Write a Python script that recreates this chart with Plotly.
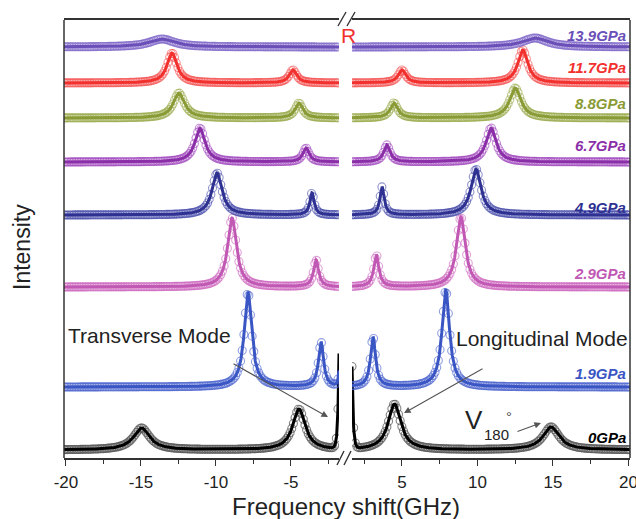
import numpy as np
import plotly.graph_objects as go

# ---- spectra: one row per pressure --------------------------------------
pressures = ["0GPa", "1.9GPa", "2.9GPa", "4.9GPa", "6.7GPa", "8.8GPa", "11.7GPa", "13.9GPa"]
baselines = [8, 71, 171, 243, 296, 340, 375, 411]   # stacking offset (a.u.)

# inner Brillouin doublet (GHz, height a.u., half width GHz)
inner_pos_neg = [-4.47, -3.0, -3.33, -3.6, -4.0, -4.47, -4.87, -4.9]
inner_pos_pos = [4.5, 3.08, 3.3, 3.68, 4.0, 4.47, 5.0, 4.9]
inner_amp_neg = [41, 45, 27, 22, 14, 15, 13, 0]
inner_amp_pos = [46, 50, 32, 28, 17, 15, 13, 0]
inner_hw = [0.5, 0.2, 0.2, 0.17, 0.25, 0.3, 0.3, 0.3]

# outer Brillouin doublet
outer_pos_neg = [-14.96, -7.87, -8.93, -9.93, -11.07, -12.47, -12.93, -13.6]
outer_pos_pos = [14.87, 7.9, 8.9, 9.9, 10.9, 12.5, 13.0, 13.8]
outer_amp_neg = [22, 95, 69, 42, 34, 25, 30, 8]
outer_amp_pos = [23, 97, 70, 46, 34, 30, 33, 9]
outer_hw = [0.65, 0.3, 0.35, 0.4, 0.4, 0.45, 0.4, 1.0]

# Rayleigh wing height at the inner cut of each side
rayleigh_neg = [95, 15, 0, 0, 0, 0, 0, 0]
rayleigh_pos = [82, 0, 0, 0, 0, 0, 0, 0]

neg_ticks = [-20, -15, -10, -5]
pos_ticks = [5, 10, 15, 20]

# ---- style ---------------------------------------------------------------
line_colors = ["#000000", "#3a55c4", "#c058b4", "#2e3192", "#8b2fa8",
               "#8a9a35", "#f2302e", "#6a4fb8"]
marker_colors = ["rgba(90,90,90,0.75)", "rgba(70,95,205,0.6)", "rgba(205,100,190,0.6)",
                 "rgba(70,75,170,0.6)", "rgba(160,70,190,0.6)", "rgba(150,168,70,0.6)",
                 "rgba(245,80,80,0.6)", "rgba(125,100,200,0.6)"]
label_offsets = [13, 14, 14, 8, 17, 15, 16, 12]

NEG_RANGE = [-20.13, -1.8]
POS_RANGE = [1.69, 20.1]
L, R, T, B = 64, 6, 20, 61
W, H = 636, 519
PW, PH = W - L - R, H - T - B


def px_x(px):
    return (px - L) / PW


def px_y(py):
    return (T + PH - py) / PH


def lorentz(f, c, a, hw):
    return a * hw ** 2 / ((f - c) ** 2 + hw ** 2)


def spectrum(f, i, side):
    if side < 0:
        y = lorentz(f, inner_pos_neg[i], inner_amp_neg[i], inner_hw[i])
        y += lorentz(f, outer_pos_neg[i], outer_amp_neg[i], outer_hw[i])
        y += rayleigh_neg[i] * np.exp(-(NEG_RANGE[1] - f) / 0.08)
    else:
        y = lorentz(f, inner_pos_pos[i], inner_amp_pos[i], inner_hw[i])
        y += lorentz(f, outer_pos_pos[i], outer_amp_pos[i], outer_hw[i])
        y += rayleigh_pos[i] * np.exp(-(f - POS_RANGE[0]) / 0.08)
    return baselines[i] + y


fig = go.Figure()
f_neg_line = np.linspace(NEG_RANGE[0], NEG_RANGE[1], 1200)
f_pos_line = np.linspace(POS_RANGE[0], POS_RANGE[1], 1200)
f_neg_pts = np.arange(NEG_RANGE[0], NEG_RANGE[1], 0.11)
f_pos_pts = np.arange(POS_RANGE[0], POS_RANGE[1], 0.11)

for i, name in enumerate(pressures):
    for side, xa, fl, fp in ((-1, "x", f_neg_line, f_neg_pts), (1, "x2", f_pos_line, f_pos_pts)):
        fig.add_trace(go.Scatter(
            x=fp, y=spectrum(fp, i, side), xaxis=xa, yaxis="y", mode="markers",
            marker=dict(symbol="circle-open", size=8, color=marker_colors[i],
                        line=dict(width=1.1, color=marker_colors[i])),
            showlegend=False, hoverinfo="skip"))
        fig.add_trace(go.Scatter(
            x=fl, y=spectrum(fl, i, side), xaxis=xa, yaxis="y", mode="lines",
            line=dict(color=line_colors[i], width=3), showlegend=False, name=name))

axis_common = dict(showline=True, linecolor="#333", linewidth=1.5, mirror=True,
                   ticks="outside", ticklen=6, tickwidth=1.3, tickcolor="#333",
                   showgrid=False, zeroline=False, ticklabeloverflow="allow",
                   ticklabelstandoff=2, automargin=False,
                   tickfont=dict(family="Liberation Sans, Arial", size=17, color="#222"),
                   minor=dict(ticks="outside", ticklen=4, tickwidth=1.2, tickcolor="#333",
                              dtick=2.5, tick0=0, showgrid=False))

fig.update_layout(
    width=W, height=H, margin=dict(l=L, r=R, t=T, b=B, autoexpand=False),
    paper_bgcolor="white", plot_bgcolor="white",
    xaxis=dict(domain=[0, px_x(339)], range=NEG_RANGE, tickvals=neg_ticks,
               ticktext=[str(v) for v in neg_ticks], anchor="y", **axis_common),
    xaxis2=dict(domain=[px_x(352), 1], range=POS_RANGE, tickvals=pos_ticks,
                ticktext=[str(v) for v in pos_ticks], anchor="y", **axis_common),
    yaxis=dict(range=[0, PH], showticklabels=False, ticks="", showgrid=False,
               zeroline=False, showline=False, domain=[0, 1], automargin=False),
)

# frame sides and axis-break marks
frame = dict(type="line", xref="paper", yref="paper", line=dict(color="#333", width=1.5))
fig.add_shape(x0=0, x1=0, y0=0, y1=1, **frame)
fig.add_shape(x0=1, x1=1, y0=0, y1=1, **frame)
for (x0, y0, x1, y1) in [(337, 465, 344, 451), (344, 465, 351, 451),
                         (338, 26, 346, 12), (347, 26, 355, 12)]:
    fig.add_shape(type="line", xref="paper", yref="paper",
                  x0=px_x(x0), y0=px_y(y0), x1=px_x(x1), y1=px_y(y1),
                  line=dict(color="#333", width=1.4))

font = "Liberation Sans, Arial"


def label(px, py, text, size, color="#222", angle=0):
    fig.add_annotation(x=px_x(px), y=px_y(py), xref="paper", yref="paper", text=text,
                       showarrow=False, xanchor="center", yanchor="middle", textangle=angle,
                       font=dict(family=font, size=size, color=color))


# pressure labels
for i, name in enumerate(pressures):
    fig.add_annotation(x=px_x(628), xref="paper", y=baselines[i] + label_offsets[i], yref="y",
                       text=f"<b><i>{name}</i></b>", showarrow=False, xanchor="right",
                       yanchor="middle",
                       font=dict(family=font, size=15, color=line_colors[i]))

label(348, 35, "R", 21, "#f2302e")
label(149, 335, "Transverse Mode", 21)
label(542, 338, "Longitudinal Mode", 21)
label(474, 420, "V", 26)
label(496, 434, "180", 15)
label(509, 416, "°", 15, "#555")
label(346, 506, "Frequency shift(GHz)", 24)
label(22, 247, "Intensity", 23, angle=-90)

arrow = dict(showarrow=True, arrowhead=2, arrowsize=1.2, arrowwidth=1.1, arrowcolor="#555",
             text="", xref="paper", yref="paper", axref="pixel", ayref="pixel")
fig.add_annotation(x=px_x(328), y=px_y(417), ax=-96, ay=-54, **arrow)
fig.add_annotation(x=px_x(404), y=px_y(413), ax=80, ay=-45, **arrow)
fig.add_annotation(x=px_x(541), y=px_y(423), ax=-25, ay=9, **arrow)

fig.write_html("out.html")
